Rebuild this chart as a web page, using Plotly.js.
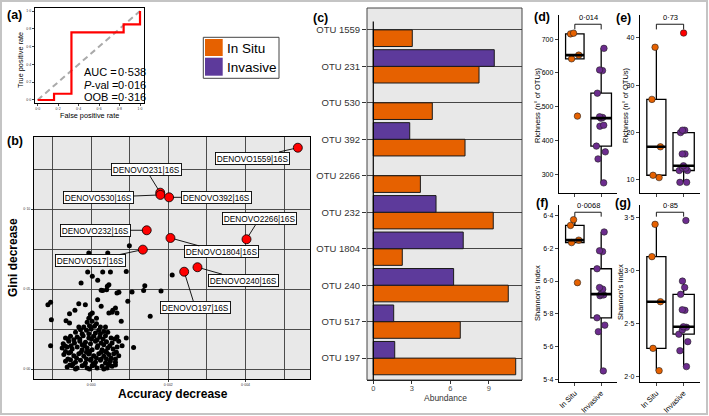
<!DOCTYPE html>
<html><head><meta charset="utf-8">
<script src="https://cdn.plot.ly/plotly-3.0.1.min.js"></script>
<style>html,body{margin:0;padding:0;background:#fff;}#chart{width:709px;height:416px;}</style>
</head><body><div id="chart"></div>
<script>
// ================= DATA =================
// (a) ROC curve
const rocFPR = [0, 0.16, 0.33, 0.84, 1.0];
const rocTPR = [0, 0.07, 0.76, 0.85, 1.0];
const rocStatNames = ['AUC =', '<i>P</i>-val =', 'OOB ='];
const rocStatValues = [0.538, 0.016, 0.316];

// (b) variable importance – labelled OTUs
const topNames = ['DENOVO1559|16S','DENOVO231|16S','DENOVO530|16S','DENOVO392|16S','DENOVO2266|16S',
                  'DENOVO232|16S','DENOVO1804|16S','DENOVO517|16S','DENOVO240|16S','DENOVO197|16S'];
const topAcc  = [0.005355, 0.00179, 0.001795, 0.00202, 0.004025, 0.00144, 0.002055, 0.00134, 0.002755, 0.00241];
const topGini = [0.1383, 0.1102, 0.1088, 0.1073, 0.0811, 0.0867, 0.0819, 0.0746, 0.0636, 0.0608];

// (b) other OTUs
const otherAcc = [
 -1.12e-3,-1.05e-3,-1.03e-3,-1.05e-3,-0.6e-4,9.9e-4,4.3e-4,-0.9e-4,0.3e-4,3.0e-4,5.0e-4,9.1e-4,-2.6e-4,1.7e-4,4.2e-4,4.6e-4,
 3.0e-4,4.0e-4,2.6e-4,7.2e-4,6.7e-4,1.06e-3,1.36e-3,1.39e-3,9.5e-4,1.7e-4,2.6e-4,6.3e-4,5.6e-4,4.6e-4,-3.2e-4,-1.5e-4,
 -4.2e-4,-0.2e-4,-5.6e-4,0.3e-4,-6.5e-4,-5.6e-4,6.7e-4,5.4e-4,7.8e-4,1.53e-3,9.1e-4,1.10e-3,1.81e-3,2.10e-3,
 -1.03e-4,0.26e-4,1.38e-4,-0.43e-4,-1.90e-4,2.41e-4,0.86e-4,
 -2.76e-4,-1.21e-4,0,1.98e-4,3.28e-4,-4.05e-4,1.12e-4,4.31e-4,-0.60e-4,
 -6.64e-4,-5.34e-4,-3.62e-4,-2.07e-4,-0.60e-4,0.69e-4,2.24e-4,3.71e-4,5.17e-4,6.72e-4,-4.48e-4,1.55e-4,
 -7.24e-4,-5.78e-4,-4.31e-4,-2.93e-4,-1.47e-4,-0.17e-4,1.12e-4,2.59e-4,3.97e-4,5.43e-4,7.15e-4,-2.33e-4,3.28e-4,
 -7.50e-4,-6.21e-4,-4.91e-4,-3.62e-4,-2.33e-4,-1.03e-4,0.26e-4,1.55e-4,2.84e-4,4.31e-4,5.69e-4,6.72e-4,-6.64e-4,-0.43e-4,3.71e-4,
 -7.07e-4,-5.78e-4,-4.48e-4,-3.19e-4,-1.90e-4,-0.60e-4,0.69e-4,1.98e-4,3.28e-4,4.57e-4,5.86e-4,7.15e-4,-3.79e-4,1.38e-4,5.17e-4,
 -6.64e-4,-5.34e-4,-4.05e-4,-2.76e-4,-1.47e-4,-0.17e-4,1.12e-4,2.41e-4,3.71e-4,5.00e-4,6.29e-4,-4.65e-4,0.52e-4,4.31e-4,
 -6.21e-4,-4.91e-4,-3.62e-4,-2.33e-4,-1.03e-4,0.26e-4,1.55e-4,2.84e-4,4.14e-4,5.43e-4,-4.05e-4,-0.43e-4,3.28e-4,
 -5.95e-4,-2.93e-4,0.09e-4,3.10e-4,6.12e-4,
 -6.81e-4,-5.17e-4,-1.72e-4,1.72e-4,4.83e-4,8.02e-4,
 -5.34e-4,-2.59e-4,-1.21e-4,2.59e-4,3.97e-4,6.55e-4,
 -6.03e-4,-1.21e-4,0,2.59e-4,3.97e-4,6.29e-4,
 -5.52e-4,-1.72e-4,0.86e-4,4.83e-4,6.29e-4,
 -2.33e-4,2.41e-4,-3.19e-4,3.71e-4,-0.60e-4,1.38e-4
];
const otherGini = [
 0.0402,0.0417,0.0308,0.0146,0.0725,0.0771,0.0725,0.0606,0.0579,0.0606,0.0606,0.0610,0.0537,0.0554,0.0517,0.0527,
 0.0490,0.0496,0.0492,0.0479,0.0475,0.0481,0.0490,0.0521,0.0423,0.0433,0.0392,0.0381,0.0367,0.0350,0.0408,0.0402,
 0.0367,0.0340,0.0346,0.0350,0.0302,0.0287,0.0350,0.0354,0.0298,0.0329,0.0194,0.0135,0.0487,0.0588,
 0.0292,0.0298,0.0283,0.0271,0.0262,0.0262,0.0267,
 0.0246,0.0242,0.0250,0.0242,0.0235,0.0229,0.0225,0.0229,0.0221,
 0.0194,0.0204,0.0200,0.0208,0.0194,0.0204,0.0200,0.0208,0.0194,0.0200,0.0183,0.0183,
 0.0158,0.0173,0.0162,0.0173,0.0167,0.0158,0.0173,0.0162,0.0171,0.0162,0.0173,0.0152,0.0152,
 0.0131,0.0137,0.0125,0.0137,0.0121,0.0131,0.0121,0.0135,0.0121,0.0131,0.0125,0.0137,0.0110,0.0110,0.0110,
 0.0090,0.0100,0.0083,0.0096,0.0079,0.0094,0.0083,0.0096,0.0079,0.0090,0.0096,0.0083,0.0069,0.0069,0.0069,
 0.0048,0.0058,0.0042,0.0054,0.0037,0.0054,0.0042,0.0054,0.0037,0.0050,0.0042,0.0033,0.0033,0.0033,
 0.0012,0.0021,0.0006,0.0021,0.0006,0.0021,0.0006,0.0017,0.0006,0.0017,0.0000,0.0000,0.0000,
 0.0187,0.0187,0.0187,0.0187,0.0187,
 0.0146,0.0146,0.0146,0.0146,0.0146,0.0146,
 0.0104,0.0104,0.0104,0.0104,0.0104,0.0104,
 0.0062,0.0062,0.0062,0.0062,0.0062,0.0062,
 0.0025,0.0025,0.0025,0.0025,0.0025,
 0.0221,0.0221,0.0262,0.0262,0.0317,0.0317
];

// (c) abundance of the top OTUs (top to bottom)
const otuNames = ['OTU 1559','OTU 231','OTU 530','OTU 392','OTU 2266','OTU 232','OTU 1804','OTU 240','OTU 517','OTU 197'];
const inSituAbund   = [3.04, 8.24, 4.60, 7.15, 3.67, 9.35, 2.26, 10.52, 6.78, 11.10];
const invasiveAbund = [null, 9.43, null, 2.84, null, 4.89, 7.01, 6.26, 1.59, 1.67];
const groupNames = ['In Situ', 'Invasive'];

// (d)-(g) alpha diversity
const dRichInSitu   = [718, 716, 653, 642, 472];
const dRichInvasive = [673, 609, 607, 540, 470, 468, 466, 445, 442, 383, 366, 345, 274];
const eRichInSitu   = [38, 27, 17, 11, 10.5];
const eRichInvasive = [41, 20.5, 20.5, 20, 15.5, 15.5, 13, 12.5, 12.5, 12, 12, 9.5, 9.5];
const fShanInSitu   = [6.375, 6.34, 6.25, 6.235, 5.99];
const fShanInvasive = [6.30, 6.185, 6.18, 6.075, 5.96, 5.95, 5.92, 5.915, 5.91, 5.775, 5.73, 5.69, 5.45];
const gShanInSitu   = [3.434, 3.13, 2.706, 2.267, 2.057];
const gShanInvasive = [3.47, 2.90, 2.84, 2.775, 2.63, 2.625, 2.47, 2.465, 2.44, 2.40, 2.33, 2.245, 2.095];
const pValueText = ['0·014', '0·73', '0·0068', '0·85'];
const dTicks = [300, 400, 500, 600, 700];
const eTicks = [10, 20, 30, 40];
const fTicks = [5.4, 5.6, 5.8, 6.0, 6.2, 6.4];
const gTicks = [2.0, 2.5, 3.0, 3.5];

// ================= STYLE / LAYOUT HELPERS =================
const W = 709, H = 416;
const X = v => v / W, Y = v => 1 - v / H;
const FONT = 'Liberation Sans, Arial, Helvetica, sans-serif';
const ORANGE = '#E66100', PURPLE_BAR = '#5D3A9B', PURPLE_PT = '#6C2C8E';
const fmt = (v, d) => v.toFixed(d).replace('.', '·');

function q7(s, p) { const h = (s.length - 1) * p, lo = Math.floor(h), hi = Math.ceil(h); return s[lo] + (h - lo) * (s[hi] - s[lo]); }
function boxStats(vals) {
  const s = [...vals].sort((a, b) => a - b);
  const q1 = q7(s, 0.25), med = q7(s, 0.5), q3 = q7(s, 0.75), iqr = q3 - q1;
  const inside = s.filter(v => v >= q1 - 1.5 * iqr && v <= q3 + 1.5 * iqr);
  return { q1, med, q3, lf: Math.min(...inside), uf: Math.max(...inside), lo: q1 - 1.5 * iqr, hi: q3 + 1.5 * iqr };
}

const traces = [];
// (a)
traces.push({type:'scatter', mode:'lines', x:[0,1], y:[0,1], xaxis:'x', yaxis:'y',
  line:{color:'#aaaaaa', width:2, dash:'6px,4px'}, hoverinfo:'skip'});
traces.push({type:'scatter', mode:'lines', x:rocFPR, y:rocTPR, xaxis:'x', yaxis:'y',
  line:{color:'#ff0000', width:2.2, shape:'hv'}});
// (b)
traces.push({type:'scatter', mode:'markers', x:otherAcc, y:otherGini, xaxis:'x2', yaxis:'y2',
  marker:{color:'#000', size:5}});
traces.push({type:'scatter', mode:'markers', x:topAcc, y:topGini, xaxis:'x2', yaxis:'y2', text:topNames,
  marker:{color:'#ff0000', size:9, line:{color:'#000', width:0.8}}});
// (c)
traces.push({type:'bar', orientation:'h', y:otuNames, x:inSituAbund, name:groupNames[0], xaxis:'x3', yaxis:'y3',
  marker:{color:ORANGE, line:{color:'#1a1a1a', width:1}}});
traces.push({type:'bar', orientation:'h', y:otuNames, x:invasiveAbund, name:groupNames[1], xaxis:'x3', yaxis:'y3',
  marker:{color:PURPLE_BAR, line:{color:'#1a1a1a', width:1}}});

// (d)-(g)
const boxPanels = [
  {n:'4', sets:[dRichInSitu, dRichInvasive], redOutliers:false},
  {n:'5', sets:[eRichInSitu, eRichInvasive], redOutliers:true},
  {n:'6', sets:[fShanInSitu, fShanInvasive], redOutliers:false},
  {n:'7', sets:[gShanInSitu, gShanInvasive], redOutliers:false},
];
const boxWidths = [0.7, 0.78];
const ptColors = [ORANGE, PURPLE_PT];
boxPanels.forEach(p => {
  p.sets.forEach((vals, gi) => {
    const st = boxStats(vals), w = boxWidths[gi];
    traces.push({type:'box', x:[gi], q1:[st.q1], median:[st.med], q3:[st.q3], lowerfence:[st.lf], upperfence:[st.uf],
      width:w, whiskerwidth:0, fillcolor:'#fff', line:{color:'#000', width:1.3}, boxpoints:false,
      xaxis:'x'+p.n, yaxis:'y'+p.n, hoverinfo:'skip'});
    traces.push({type:'scatter', mode:'lines', x:[gi - w/2, gi + w/2], y:[st.med, st.med],
      line:{color:'#000', width:2.6}, xaxis:'x'+p.n, yaxis:'y'+p.n, hoverinfo:'skip'});
    const normal = p.redOutliers ? vals.filter(v => v >= st.lo && v <= st.hi) : vals;
    traces.push({type:'box', x:normal.map(() => gi), y:normal, width:w, boxpoints:'all', jitter:0.55, pointpos:0,
      fillcolor:'rgba(0,0,0,0)', line:{color:'rgba(0,0,0,0)', width:0},
      marker:{color:ptColors[gi], size:6.5, line:{color:'#222', width:0.6}}, xaxis:'x'+p.n, yaxis:'y'+p.n});
    if (p.redOutliers) {
      const outs = vals.filter(v => v < st.lo || v > st.hi);
      traces.push({type:'scatter', mode:'markers', x:outs.map(() => gi), y:outs,
        marker:{color:'#ff0000', size:6.5, line:{color:'#222', width:0.6}}, xaxis:'x'+p.n, yaxis:'y'+p.n});
    }
  });
});

// ---- axes ----
const baseAx = {showgrid:false, zeroline:false, ticks:'outside', fixedrange:true};
const tiny = {size:3.5, color:'#333'};
const layout = {
  width:W, height:H, margin:{l:0, r:0, t:0, b:0},
  paper_bgcolor:'#fff', plot_bgcolor:'rgba(0,0,0,0)', showlegend:false, separators:'·,',
  font:{family:FONT, color:'#000'}, barmode:'group', bargap:0.087, bargroupgap:0, boxmode:'overlay',
  // (a)
  xaxis:{...baseAx, anchor:'y', domain:[X(35), X(144)], range:[-0.026, 1.039], tickvals:[0,0.2,0.4,0.6,0.8,1],
    tickformat:'.1f', ticklen:2, tickfont:tiny, showline:true, mirror:true, linecolor:'#000', linewidth:1},
  yaxis:{...baseAx, anchor:'x', domain:[Y(103), Y(8)], range:[-0.034, 1.034], tickvals:[0,0.2,0.4,0.6,0.8,1],
    tickformat:'.1f', ticklen:2, tickfont:tiny, showline:true, mirror:true, linecolor:'#000', linewidth:1},
  // (b)
  xaxis2:{...baseAx, anchor:'y2', domain:[X(34), X(310)], range:[-0.00148, 0.00567], tick0:0, dtick:0.002,
    tickformat:'.3f', ticklen:2, tickfont:tiny, showgrid:true, gridcolor:'#3a3a3a', gridwidth:0.9,
    minor:{dtick:0.001, tick0:0, showgrid:true, gridcolor:'#3a3a3a', gridwidth:0.9},
    showline:true, mirror:true, linecolor:'#000', linewidth:1},
  yaxis2:{...baseAx, anchor:'x2', domain:[Y(379), Y(137)], range:[-0.00625, 0.145], tick0:0, dtick:0.05,
    tickformat:'.2f', ticklen:2, tickfont:tiny, showgrid:true, gridcolor:'#3a3a3a', gridwidth:0.9,
    minor:{dtick:0.025, tick0:0, showgrid:true, gridcolor:'#3a3a3a', gridwidth:0.9},
    showline:true, mirror:true, linecolor:'#000', linewidth:1},
  // (c)
  xaxis3:{...baseAx, anchor:'y3', domain:[X(367), X(522)], range:[-0.49, 11.59], tickvals:[0,3,6,9],
    ticklen:3, ticklabelstandoff:-2, tickcolor:'#333', tickfont:{size:7.5, color:'#4d4d4d'},
    showline:true, linecolor:'#222', linewidth:1},
  yaxis3:{...baseAx, anchor:'x3', domain:[Y(380), Y(8)], type:'category', categoryorder:'array',
    categoryarray:[...otuNames].reverse(), range:[-0.6, 9.6], showgrid:true, gridcolor:'#333', gridwidth:0.9,
    ticklen:4, tickcolor:'#333', tickfont:{size:9.5, color:'#333'}},
  // (d)
  xaxis4:{...baseAx, anchor:'y4', domain:[X(559), X(617)], range:[-0.6, 1.6], tickvals:[0,1], ticktext:groupNames,
    showticklabels:false, ticklen:3, showline:true, linecolor:'#000', linewidth:1.2},
  yaxis4:{...baseAx, anchor:'x4', domain:[Y(192.7), Y(15)], range:[244.8, 772], tickvals:dTicks, ticklen:3,
    tickfont:{size:7}, showline:true, linecolor:'#000', linewidth:1.2},
  // (e)
  xaxis5:{...baseAx, anchor:'y5', domain:[X(640), X(700)], range:[-0.6, 1.6], tickvals:[0,1], ticktext:groupNames,
    showticklabels:false, ticklen:3, showline:true, linecolor:'#000', linewidth:1.2},
  yaxis5:{...baseAx, anchor:'x5', domain:[Y(192.7), Y(15)], range:[7.32, 44.8], tickvals:eTicks, ticklen:3,
    tickfont:{size:7}, showline:true, linecolor:'#000', linewidth:1.2},
  // (f)
  xaxis6:{...baseAx, anchor:'y6', domain:[X(559), X(617)], range:[-0.6, 1.6], tickvals:[0,1], ticktext:groupNames,
    tickangle:-45, tickfont:{size:7.5}, ticklen:3, showline:true, linecolor:'#000', linewidth:1.2},
  yaxis6:{...baseAx, anchor:'x6', domain:[Y(381.7), Y(205)], range:[5.384, 6.465], tickvals:fTicks, tickformat:'.1f',
    ticklen:3, tickfont:{size:7}, showline:true, linecolor:'#000', linewidth:1.2},
  // (g)
  xaxis7:{...baseAx, anchor:'y7', domain:[X(640), X(700)], range:[-0.6, 1.6], tickvals:[0,1], ticktext:groupNames,
    tickangle:-45, tickfont:{size:7.5}, ticklen:3, showline:true, linecolor:'#000', linewidth:1.2},
  yaxis7:{...baseAx, anchor:'x7', domain:[Y(381.7), Y(205)], range:[1.953, 3.616], tickvals:gTicks, tickformat:'.1f',
    ticklen:3, tickfont:{size:7}, showline:true, linecolor:'#000', linewidth:1.2},
};

// ---- shapes ----
const shapes = [
  {type:'rect', xref:'paper', yref:'paper', x0:X(1), x1:X(707), y0:Y(414), y1:Y(1), line:{color:'#c4c4c4', width:2}, layer:'below'},
  {type:'rect', xref:'x2 domain', yref:'y2 domain', x0:0, x1:1, y0:0, y1:1, fillcolor:'#e8e8e8', line:{width:0}, layer:'below'},
  {type:'rect', xref:'x3 domain', yref:'y3 domain', x0:0, x1:1, y0:0, y1:1, fillcolor:'#e8e8e8', line:{color:'#444', width:1}, layer:'below'},
  {type:'line', xref:'x3', yref:'y3', x0:0, x1:0, y0:-0.6, y1:9.23, line:{color:'#000', width:1.2}},
  // legend
  {type:'rect', xref:'paper', yref:'paper', x0:X(203.3), x1:X(279), y0:Y(78.3), y1:Y(37.3), fillcolor:'#fff', line:{color:'#444', width:1}},
  {type:'rect', xref:'paper', yref:'paper', x0:X(205), x1:X(222.7), y0:Y(56), y1:Y(39), fillcolor:ORANGE, line:{width:0}},
  {type:'rect', xref:'paper', yref:'paper', x0:X(205), x1:X(222.7), y0:Y(75.7), y1:Y(57.7), fillcolor:PURPLE_BAR, line:{width:0}},
];
const bracketPos = [[0.948, 0.919], [0.948, 0.919], [0.959, 0.934], [0.959, 0.934]];
boxPanels.forEach((p, i) => {
  const [top, low] = bracketPos[i];
  shapes.push({type:'path', xref:'x'+p.n, yref:'y'+p.n+' domain',
    path:`M 0,${low} L 0,${top} L 1,${top} L 1,${low}`, line:{color:'#000', width:0.9}});
});
layout.shapes = shapes;

// ---- annotations ----
const ann = [];
const txt = (x, y, text, o = {}) => ann.push(Object.assign({xref:'paper', yref:'paper', x:X(x), y:Y(y), text,
  xanchor:'center', yanchor:'middle', showarrow:false, font:{size:8, family:FONT, color:'#000'}}, o));
const bold = s => '<b>' + s + '</b>';
// panel tags
[['(a)',15,15],['(b)',15,141],['(c)',320,18],['(d)',542,17],['(e)',623,18],['(f)',542,203],['(g)',623,203]]
  .forEach(([t, x, y]) => txt(x, y, bold(t), {font:{size:12.5, family:FONT}}));
// (a)
txt(21, 60, 'True positive rate', {textangle:-90, font:{size:7.3, family:FONT}});
txt(89, 115.5, 'False positive rate', {font:{size:7.3, family:FONT}});
rocStatNames.forEach((s, i) => {
  const yy = 72 + i * 12.5;
  txt(81.5, yy, s, {xanchor:'left', font:{size:11, family:FONT}});
  txt(115.5, yy, fmt(rocStatValues[i], 3), {xanchor:'left', font:{size:11, family:FONT}});
});
// (b)
txt(13, 258, bold('Gini decrease'), {textangle:-90, font:{size:12, family:FONT}});
txt(173, 393.5, bold('Accuracy decrease'), {font:{size:12, family:FONT}});
const labelOffsets = [[-45.7,10.3],[-14,-22.7],[-62,2.5],[47,0],[12.7,-20.3],[-51.7,0],[50.7,14],[-52,11],[46,13],[11,35.3]];
topNames.forEach((nm, i) => ann.push({xref:'x2', yref:'y2', x:topAcc[i], y:topGini[i], text:nm,
  showarrow:true, arrowhead:0, arrowwidth:0.9, arrowcolor:'#000', ax:labelOffsets[i][0], ay:labelOffsets[i][1],
  standoff:4, bgcolor:'#fff', bordercolor:'#000', borderwidth:0.9, borderpad:0.8,
  font:{size:8.3, family:FONT, color:'#000'}}));
// (c)
txt(445, 398, 'Abundance', {font:{size:8.5, family:FONT, color:'#333'}});
txt(225, 48, groupNames[0], {xanchor:'left', font:{size:13.5, family:FONT}});
txt(225, 67, groupNames[1], {xanchor:'left', font:{size:13.5, family:FONT}});
// (d)-(g)
txt(537, 105, 'Richness (n° of OTUs)', {textangle:-90, font:{size:7.5, family:FONT}});
txt(625, 105, 'Richness (n° of OTUs)', {textangle:-90, font:{size:7.5, family:FONT}});
txt(537, 293, "Shannon's Index", {textangle:-90, font:{size:7.5, family:FONT}});
txt(620, 292, "Shannon's Index", {textangle:-90, font:{size:7.5, family:FONT}});
boxPanels.forEach((p, i) => ann.push({xref:'x'+p.n, yref:'y'+p.n+' domain', x:0.5, y:bracketPos[i][0],
  xanchor:'center', yanchor:'bottom', text:pValueText[i], showarrow:false, font:{size:7.5, family:FONT, color:'#000'}}));
layout.annotations = ann;

Plotly.newPlot('chart', traces, layout, {staticPlot:true, displayModeBar:false});
</script></body></html>
